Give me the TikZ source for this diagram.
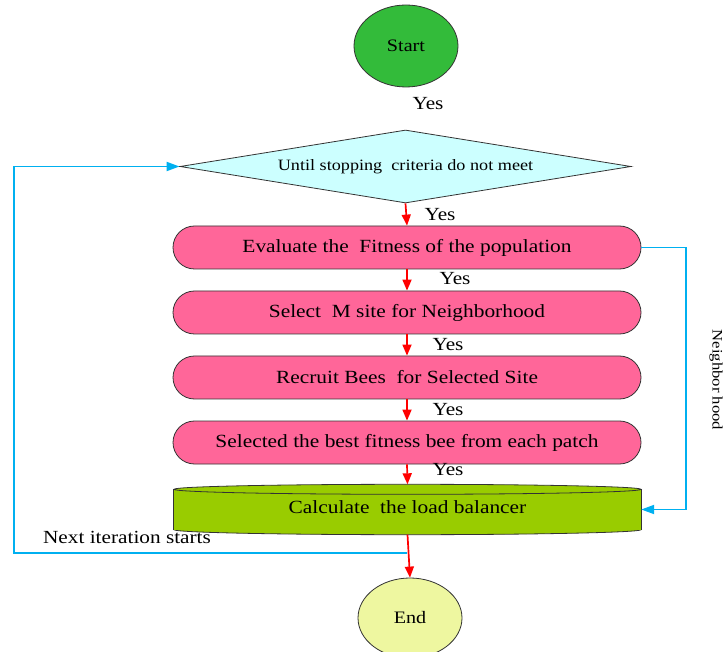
\documentclass[tikz,border=0pt]{standalone}
\usepackage{fontspec}
\setmainfont[FakeStretch=1.15]{Liberation Serif}
\usetikzlibrary{arrows.meta,shapes.geometric,calc}
\definecolor{startgreen}{HTML}{33BB3A}
\definecolor{endyellow}{HTML}{EEF7A0}
\definecolor{stepink}{HTML}{FF6699}
\definecolor{decisioncyan}{HTML}{CCFFFF}
\definecolor{barrelgreen}{HTML}{99CC00}
\definecolor{loopblue}{HTML}{00B0F0}
\definecolor{flowred}{HTML}{FF0000}

\begin{document}
\begin{tikzpicture}[x=1pt,y=-1pt,
  outline/.style={draw=black!80, line width=0.8pt},
  terminal/.style={outline, ellipse, inner sep=0pt, font=\fontsize{17.5}{20}\selectfont},
  process/.style={outline, fill=stepink, rounded corners=21.5pt, minimum width=468pt,
    minimum height=43pt, inner sep=0pt, font=\fontsize{18.6}{20}\selectfont},
  decision/.style={outline, fill=decisioncyan, diamond, aspect=6.18, minimum width=451pt,
    minimum height=73pt, inner sep=0pt, font=\fontsize{15.8}{18}\selectfont},
  flow/.style={draw=flowred, line width=1.7pt, -{Triangle[width=9pt,length=11pt]}},
  feedback/.style={draw=loopblue, line width=1.9pt, -{Triangle[width=9pt,length=13pt]}},
  tag/.style={font=\fontsize{18.5}{20}\selectfont, inner sep=1pt},
]
\useasboundingbox (0,0) rectangle (726,652);

% terminals
\node[terminal, fill=startgreen, minimum width=104pt, minimum height=82pt] (start) at (406,46) {Start};
\node[terminal, fill=endyellow, minimum width=104pt, minimum height=80pt] (end) at (410,618) {End};

% loop condition
\node[decision] (cond) at (405.5,166.5) {Until stopping\ \ criteria do not meet};

% bee algorithm steps
\node[process] (eval)    at (407,247.5) {Evaluate the\ \ Fitness of the population};
\node[process] (select)  at (407,312.5) {Select\ \ M site for Neighborhood};
\node[process] (recruit) at (407,377.5) {Recruit Bees\ \ for Selected Site};
\node[process] (best)    at (407,442.5) {Selected the best fitness bee from each patch};

% load balancer drum
\node[minimum width=467pt, minimum height=40pt, inner sep=0pt]
  (calc) at (407.5,509.5) {};
\draw[outline, fill=barrelgreen] (calc.south) ellipse [x radius=233.5pt, y radius=5pt];
\fill[barrelgreen] (calc.north west) rectangle (calc.south east);
\draw[outline] (calc.north west) -- (calc.south west);
\draw[outline] (calc.north east) -- (calc.south east);
\draw[outline, fill=barrelgreen] (calc.north) ellipse [x radius=233.5pt, y radius=5pt];
\node[font=\fontsize{18.6}{20}\selectfont] (calctext) at (407.5,507) {Calculate\ \ the load balancer};
\coordinate (calctop) at ($(calc.north)+(0,-5)$);
\coordinate (calcbottom) at ($(calc.south)+(0,5)$);

% feedback loops
\coordinate (split) at (407,553);
\coordinate (rail) at (14,0);
\draw[feedback] (split) -- (split -| rail) |- (cond.west);
\draw[feedback] (eval.east) -- ++(45,0) |- (calc.east);

% main flow
\draw[flow] (cond.south) -- (eval.north);
\draw[flow] (eval.south) -- (select.north);
\draw[flow] (select.south) -- (recruit.north);
\draw[flow] (recruit.south) -- (best.north);
\draw[flow] (best.south) -- (calctop);
\draw[flow] (calcbottom) -- (end.north);

% labels
\node[tag] (y0) at (428,104) {Yes};
\node[tag] (y1) at (440,215) {Yes};
\node[tag] (y2) at (455,279) {Yes};
\node[tag] (y3) at (448,345) {Yes};
\node[tag] (y4) at (448,410) {Yes};
\node[tag] (y5) at (448,470) {Yes};
\node[tag] (next) at (127,537) {Next iteration starts};
\node[font=\fontsize{14.5}{17}\selectfont, rotate=-90] (nb) at (716,380) {Neighbor hood};
\end{tikzpicture}
\end{document}
